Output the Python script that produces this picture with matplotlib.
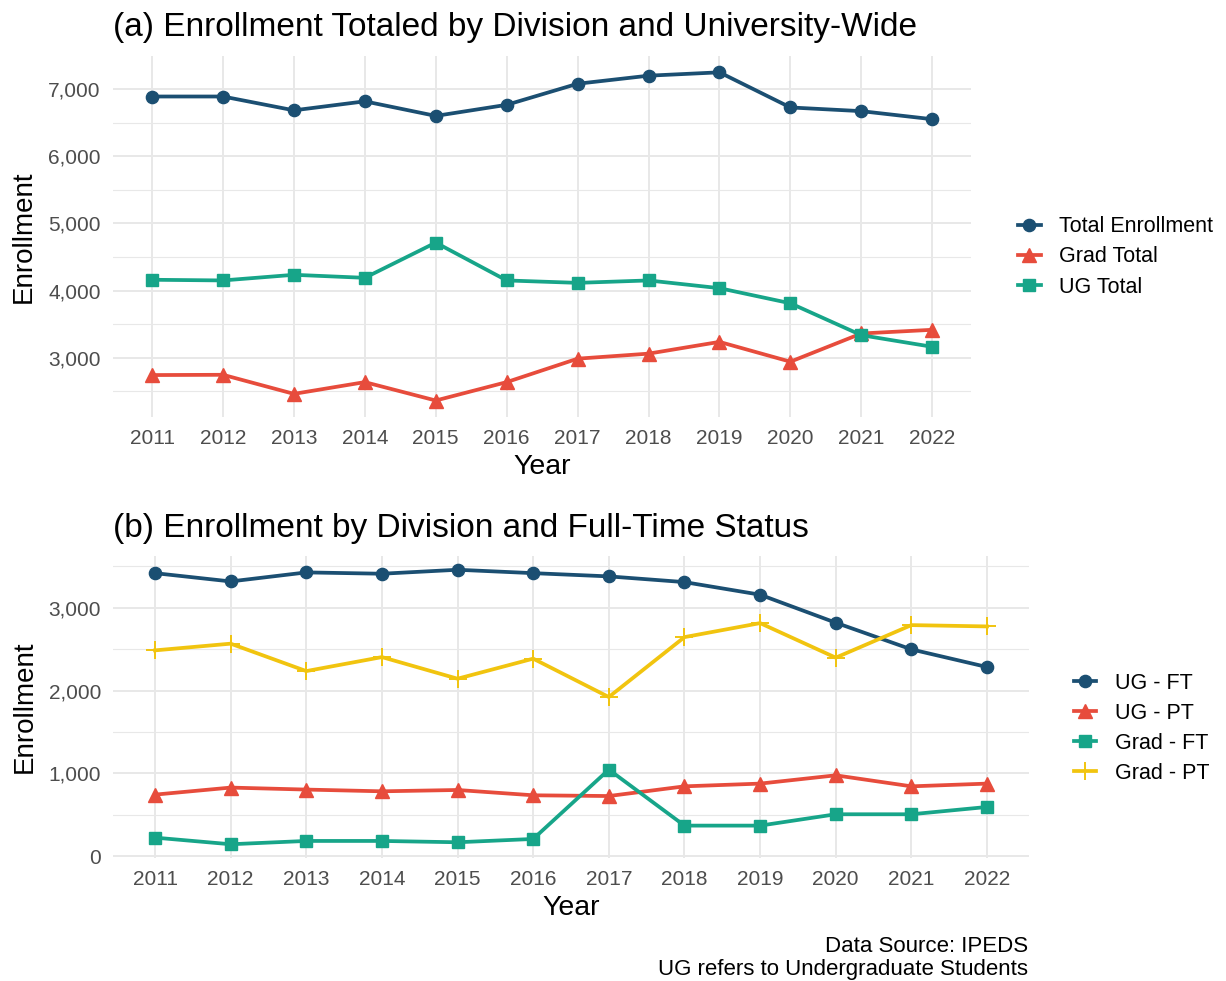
import matplotlib.pyplot as plt
from matplotlib.ticker import FuncFormatter, MultipleLocator

plt.rcParams['font.family'] = ['Liberation Sans', 'DejaVu Sans']

years = [2011, 2012, 2013, 2014, 2015, 2016, 2017, 2018, 2019, 2020, 2021, 2022]

# panel (a)
total_enroll = [6889, 6889, 6683, 6817, 6600, 6765, 7079, 7199, 7249, 6726, 6671, 6551]
grad_total = [2741, 2745, 2461, 2636, 2362, 2636, 2985, 3060, 3235, 2940, 3360, 3415]
ug_total = [4160, 4150, 4234, 4189, 4713, 4150, 4114, 4150, 4035, 3810, 3335, 3162]

# panel (b)
ug_ft = [3417, 3317, 3426, 3410, 3458, 3417, 3378, 3309, 3157, 2819, 2497, 2284]
ug_pt = [744, 829, 805, 784, 800, 736, 727, 844, 877, 977, 844, 877]
grad_ft = [225, 145, 185, 185, 169, 209, 1046, 370, 370, 507, 507, 595]
grad_pt = [2485, 2566, 2235, 2404, 2143, 2385, 1922, 2645, 2814, 2397, 2790, 2774]

navy = '#1B4F72'
red = '#E74C3C'
teal = '#17A589'
yellow = '#F1C40F'
grid_c = '#E8E8E8'

fig = plt.figure(figsize=(12.26, 9.81), dpi=100)
ax1 = fig.add_axes([0.0922, 0.575, 0.700, 0.368])
ax2 = fig.add_axes([0.0925, 0.1254, 0.7465, 0.3078])

comma = FuncFormatter(lambda v, p: f'{int(v):,}')


def style(ax, minor):
    ax.set_xticks(years)
    ax.yaxis.set_major_formatter(comma)
    ax.yaxis.set_minor_locator(MultipleLocator(minor))
    for s in ax.spines.values():
        s.set_visible(False)
    ax.grid(which='major', color=grid_c, lw=1.4, zorder=0)
    ax.grid(which='minor', axis='y', color=grid_c, lw=0.8, zorder=0)
    ax.set_axisbelow(True)
    ax.tick_params(which='both', length=0, labelsize=15, labelcolor='#4D4D4D', pad=9)
    ax.set_xlabel('Year', fontsize=20.5, labelpad=4)
    ax.set_ylabel('Enrollment', fontsize=20, labelpad=8)


lw = 2.7
leg_kw = dict(frameon=False, fontsize=15.5, handlelength=1.05,
              handletextpad=0.85, labelspacing=0.42)

ax1.plot(years, total_enroll, color=navy, lw=lw, marker='o', ms=8.8, label='Total Enrollment')
ax1.plot(years, grad_total, color=red, lw=lw, marker='^', ms=10, label='Grad Total')
ax1.plot(years, ug_total, color=teal, lw=lw, marker='s', ms=8.2, label='UG Total')
ax1.set_yticks([3000, 4000, 5000, 6000, 7000])
style(ax1, 500)
ax1.set_title('(a) Enrollment Totaled by Division and University-Wide',
              loc='left', fontsize=24, pad=14)
ax1.legend(loc='center left', bbox_to_anchor=(1.032, 0.443), **leg_kw)

ax2.plot(years, ug_ft, color=navy, lw=lw, marker='o', ms=8.8, label='UG - FT')
ax2.plot(years, ug_pt, color=red, lw=lw, marker='^', ms=10, label='UG - PT')
ax2.plot(years, grad_ft, color=teal, lw=lw, marker='s', ms=8.2, label='Grad - FT')
ax2.plot(years, grad_pt, color=yellow, lw=lw, marker='+', ms=13, mew=1.4, label='Grad - PT')
ax2.set_yticks([0, 1000, 2000, 3000])
style(ax2, 500)
ax2.set_title('(b) Enrollment by Division and Full-Time Status',
              loc='left', fontsize=24, pad=14)
ax2.legend(loc='center left', bbox_to_anchor=(1.028, 0.43), **leg_kw)

fig.text(0.8385, 0.0234, 'Data Source: IPEDS\nUG refers to Undergraduate Students',
         ha='right', va='center', fontsize=16, linespacing=1.1)

fig.savefig('out.png', dpi=100)
